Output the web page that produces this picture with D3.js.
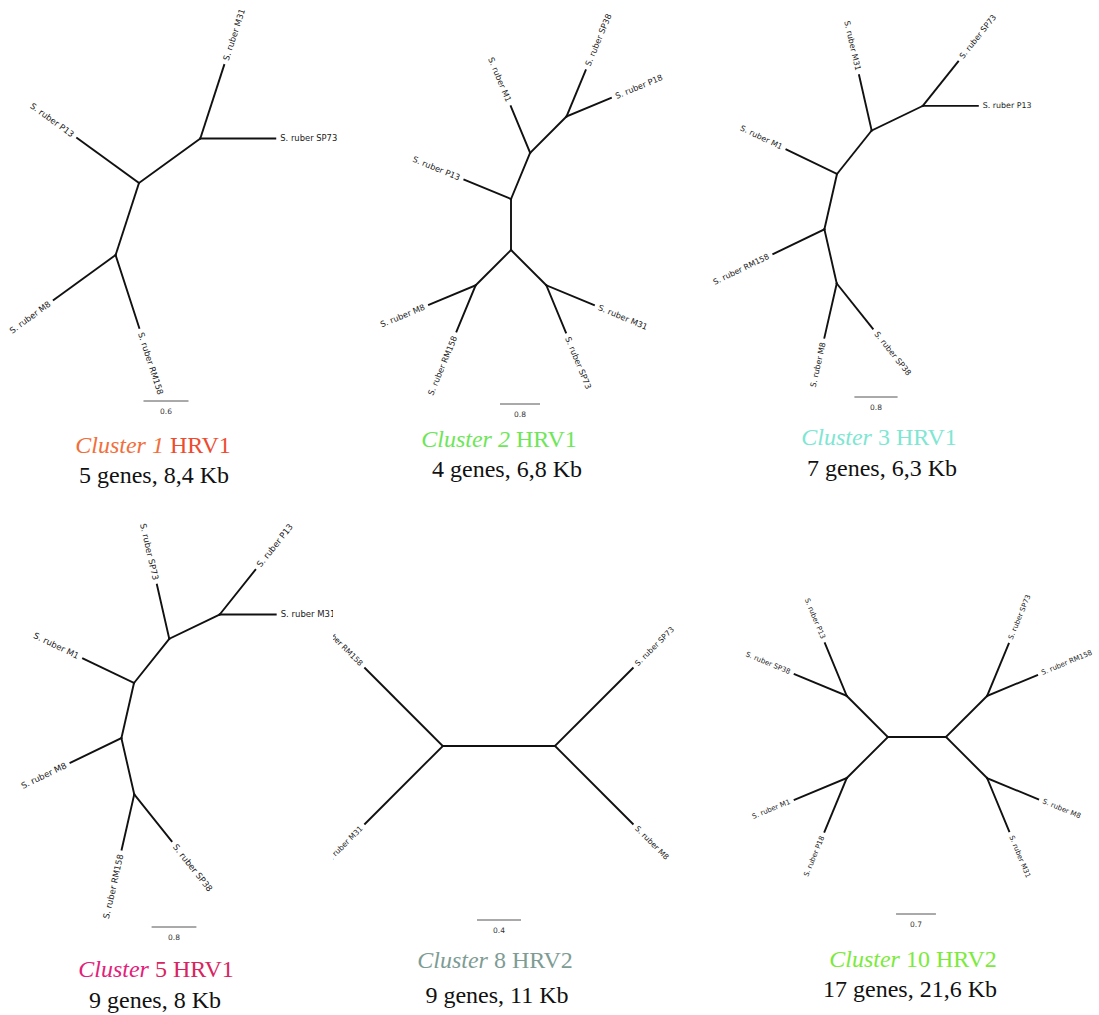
<!DOCTYPE html>
<html><head><meta charset="utf-8">
<script src="https://cdn.jsdelivr.net/npm/d3@7"></script>
<style>body{margin:0;background:#fff}svg{display:block}</style>
</head><body>
<svg id="chart" width="1099" height="1015"></svg>
<script>
// ---------- DATA ----------
// Unrooted trees as Newick strings (branch lengths in substitutions/site)
const trees = [
  "((S._ruber_RM158:1.02,S._ruber_M8:1.02):1.01,S._ruber_P13:1.02,(S._ruber_M31:1.03,S._ruber_SP73:1.0):1.01);",
  "(((S._ruber_M31:1.03,S._ruber_SP73:1.02):1.0,(S._ruber_RM158:1.0,S._ruber_M8:1.01):1.0):1.02,S._ruber_P13:1.01,(S._ruber_M1:1.01,(S._ruber_SP38:1.0,S._ruber_P18:0.96):1.03):1.0);",
  "(((S._ruber_SP38:1.07,S._ruber_M8:1.03):1.03,S._ruber_RM158:1.05):1.05,S._ruber_M1:1.04,(S._ruber_M31:1.05,(S._ruber_SP73:1.05,S._ruber_P13:1.02):1.05):1.03);",
  "(((S._ruber_SP38:1.07,S._ruber_RM158:1.01):1.03,S._ruber_M8:1.01):1.01,S._ruber_M1:1.01,(S._ruber_SP73:0.99,(S._ruber_P13:1.02,S._ruber_M31:1.0):1.0):1.01);",
  "(S._ruber_SP73:1.0,S._ruber_M8:1.0,(S._ruber_M31:1.0,S._ruber_RM158:1.0):1.02);",
  "((S._ruber_SP73:0.99,S._ruber_RM158:0.95):1.02,(S._ruber_M8:0.97,S._ruber_M31:1.01):1.02,((S._ruber_P18:1.02,S._ruber_M1:0.99):1.02,(S._ruber_SP38:0.99,S._ruber_P13:1.0):1.02):1.02);"
];
const scaleBarValues = [0.6, 0.8, 0.8, 0.8, 0.4, 0.7];
const clusterIds = ["1", "2", "3", "5", "8", "10"];
const hrvTypes = ["HRV1", "HRV1", "HRV1", "HRV1", "HRV2", "HRV2"];
const geneCounts = ["5", "4", "7", "9", "9", "17"];
const sizesKb = ["8,4", "6,8", "6,3", "8", "11", "21,6"];

// ---------- LAYOUT / STYLE ----------
const panels = [
  {rx:139, ry:183, unit:75, start:36,   fs:8.4, bar:[166,401], title:[153,453], sub:[154,483], clip:[0,0,360,500],   c1:"#F26E3B", c2:"#EE4B2E", numItalic:true},
  {rx:511, ry:199, unit:50, start:0,    fs:8.2, bar:[520,404], title:[499,447], sub:[507,477], clip:[360,0,340,500], c1:"#6DE657", c2:"#6DE657", numItalic:true},
  {rx:837, ry:174, unit:54, start:25.714, fs:7.9, bar:[876,397], title:[879,445], sub:[882,476], clip:[700,0,399,500], c1:"#7EE6D2", c2:"#7EE6D2", numItalic:false},
  {rx:134, ry:683, unit:56, start:25.714, fs:8.5, bar:[174,927], title:[156,977], sub:[155,1008], clip:[0,500,333,515], c1:"#E3207A", c2:"#D82460", numItalic:false},
  {rx:555, ry:746, unit:110, start:-90, fs:7.6, bar:[499,920], title:[495,968], sub:[497,1003], clip:[333,500,380,515], c1:"#7E9C94", c2:"#7E9C94", numItalic:false},
  {rx:946, ry:737, unit:57, start:-90,  fs:7.0, bar:[916,914], title:[913,967], sub:[910,997], clip:[713,500,386,515], c1:"#7BEA3B", c2:"#7BEA3B", numItalic:false}
];

function parseNewick(s) {
  const tokens = s.split(/\s*(;|\(|\)|,|:)\s*/);
  const ancestors = [];
  let tree = {}, sub;
  for (let i = 0; i < tokens.length; i++) {
    const t = tokens[i];
    switch (t) {
      case "(": sub = {}; tree.children = [sub]; ancestors.push(tree); tree = sub; break;
      case ",": sub = {}; ancestors[ancestors.length - 1].children.push(sub); tree = sub; break;
      case ")": tree = ancestors.pop(); break;
      case ":": case ";": case "": break;
      default: {
        const prev = tokens[i - 1];
        if (prev === ":") tree.length = parseFloat(t);
        else tree.name = t.replace(/_/g, " ");
      }
    }
  }
  return tree;
}

// Equal-angle unrooted layout
function equalAngle(data, start) {
  const root = d3.hierarchy(data);
  const N = root.leaves().length;
  root.ux = 0; root.uy = 0;
  (function rec(node, a0) {
    let a = a0;
    (node.children || []).forEach(c => {
      const w = 360 * c.leaves().length / N;
      const mid = a + w / 2, r = mid * Math.PI / 180;
      c.angle = mid;
      c.ux = node.ux + c.data.length * Math.cos(r);
      c.uy = node.uy + c.data.length * Math.sin(r);
      rec(c, a);
      a += w;
    });
  })(root, start);
  return root;
}

const svg = d3.select("#chart");
const defs = svg.append("defs");

trees.forEach((nw, i) => {
  const P = panels[i];
  const root = equalAngle(parseNewick(nw), P.start);
  const x = d3.scaleLinear().domain([0, 1]).range([P.rx, P.rx + P.unit]);
  const y = d3.scaleLinear().domain([0, 1]).range([P.ry, P.ry + P.unit]);
  const len = d3.scaleLinear().domain([0, 1]).range([0, P.unit]);

  defs.append("clipPath").attr("id", "clip" + i).append("rect")
    .attr("x", P.clip[0]).attr("y", P.clip[1]).attr("width", P.clip[2]).attr("height", P.clip[3]);
  const g = svg.append("g").attr("clip-path", `url(#clip${i})`);

  // branches
  g.selectAll("line.branch").data(root.descendants().filter(d => d.parent))
    .join("line").attr("class", "branch")
    .attr("x1", d => x(d.parent.ux)).attr("y1", d => y(d.parent.uy))
    .attr("x2", d => x(d.ux)).attr("y2", d => y(d.uy))
    .attr("stroke", "#111").attr("stroke-width", 1.9).attr("stroke-linecap", "square");

  // tip labels
  const off = 5;
  g.selectAll("text.tip").data(root.leaves())
    .join("text").attr("class", "tip")
    .each(function (d) {
      const r = d.angle * Math.PI / 180;
      const tx = x(d.ux) + off * Math.cos(r), ty = y(d.uy) + off * Math.sin(r);
      const right = Math.cos(r) >= 0;
      d3.select(this)
        .attr("transform", `translate(${tx},${ty}) rotate(${right ? d.angle : d.angle + 180})`)
        .attr("text-anchor", right ? "start" : "end");
    })
    .attr("dominant-baseline", "central")
    .attr("font-family", "'DejaVu Sans', sans-serif")
    .attr("font-size", P.fs).attr("fill", "#1a1a1a")
    .text(d => d.data.name);

  // scale bar
  const bl = len(scaleBarValues[i]);
  g.append("line")
    .attr("x1", P.bar[0] - bl / 2).attr("x2", P.bar[0] + bl / 2)
    .attr("y1", P.bar[1]).attr("y2", P.bar[1])
    .attr("stroke", "#555").attr("stroke-width", 1);
  g.append("text").attr("x", P.bar[0]).attr("y", P.bar[1] + 10)
    .attr("text-anchor", "middle").attr("dominant-baseline", "central")
    .attr("font-family", "'DejaVu Sans', sans-serif").attr("font-size", 7.5)
    .attr("fill", "#333").text(scaleBarValues[i]);

  // titles
  const t = svg.append("text").attr("x", P.title[0]).attr("y", P.title[1])
    .attr("text-anchor", "middle")
    .attr("font-family", "'Liberation Serif', 'Times New Roman', serif").attr("font-size", 24);
  t.append("tspan").attr("font-style", "italic").attr("fill", P.c1)
    .text(P.numItalic ? `Cluster ${clusterIds[i]}` : "Cluster");
  t.append("tspan").attr("fill", P.c2)
    .text(P.numItalic ? ` ${hrvTypes[i]}` : ` ${clusterIds[i]} ${hrvTypes[i]}`);

  svg.append("text").attr("x", P.sub[0]).attr("y", P.sub[1])
    .attr("text-anchor", "middle")
    .attr("font-family", "'Liberation Serif', 'Times New Roman', serif").attr("font-size", 24)
    .attr("fill", "#111")
    .text(`${geneCounts[i]} genes, ${sizesKb[i]} Kb`);
});
</script>
</body></html>
